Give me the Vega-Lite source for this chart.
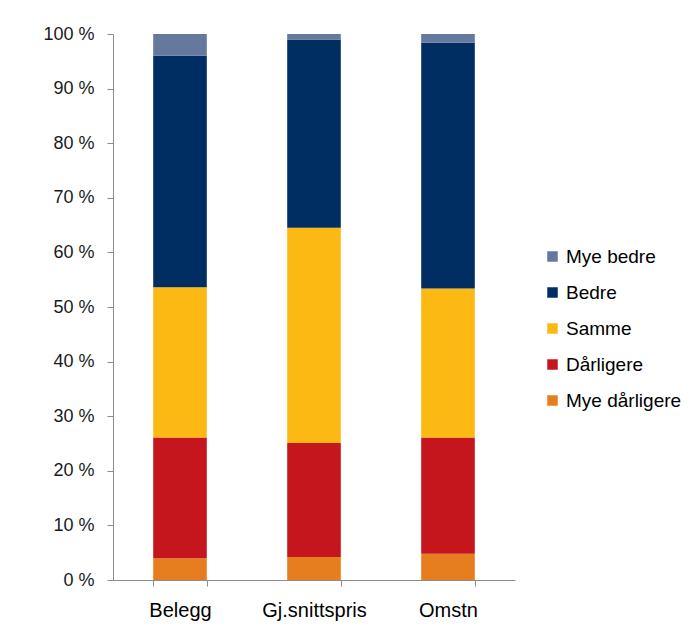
{
  "$schema": "https://vega.github.io/schema/vega-lite/v6.json",
  "autosize": "none",
  "padding": {"left": 113, "top": 34, "right": 184, "bottom": 57},
  "width": 402,
  "height": 546,
  "background": "white",
  "config": {
    "view": {"stroke": null},
    "font": "Liberation Sans"
  },
  "data": {
    "values": [
      {"kat": "Belegg", "svar": "Mye dårligere", "k": 1, "andel": 4.0},
      {"kat": "Belegg", "svar": "Dårligere", "k": 2, "andel": 22.1},
      {"kat": "Belegg", "svar": "Samme", "k": 3, "andel": 27.5},
      {"kat": "Belegg", "svar": "Bedre", "k": 4, "andel": 42.4},
      {"kat": "Belegg", "svar": "Mye bedre", "k": 5, "andel": 4.0},
      {"kat": "Gj.snittspris", "svar": "Mye dårligere", "k": 1, "andel": 4.2},
      {"kat": "Gj.snittspris", "svar": "Dårligere", "k": 2, "andel": 20.9},
      {"kat": "Gj.snittspris", "svar": "Samme", "k": 3, "andel": 39.4},
      {"kat": "Gj.snittspris", "svar": "Bedre", "k": 4, "andel": 34.5},
      {"kat": "Gj.snittspris", "svar": "Mye bedre", "k": 5, "andel": 1.0},
      {"kat": "Omstn", "svar": "Mye dårligere", "k": 1, "andel": 4.8},
      {"kat": "Omstn", "svar": "Dårligere", "k": 2, "andel": 21.3},
      {"kat": "Omstn", "svar": "Samme", "k": 3, "andel": 27.3},
      {"kat": "Omstn", "svar": "Bedre", "k": 4, "andel": 45.0},
      {"kat": "Omstn", "svar": "Mye bedre", "k": 5, "andel": 1.6}
    ]
  },
  "mark": {"type": "bar"},
  "encoding": {
    "x": {
      "field": "kat",
      "type": "nominal",
      "sort": ["Belegg", "Gj.snittspris", "Omstn"],
      "scale": {"paddingInner": 0.6, "paddingOuter": 0.3},
      "axis": {
        "title": null,
        "labelAngle": 0,
        "labelFontSize": 20,
        "labelColor": "#000000",
        "labelPadding": 14,
        "domainColor": "#8c8c8c",
        "tickColor": "#8c8c8c",
        "tickSize": 6,
        "tickBand": "extent",
        "grid": false
      }
    },
    "y": {
      "field": "andel",
      "type": "quantitative",
      "aggregate": "sum",
      "stack": "normalize",
      "scale": {"domain": [0, 1]},
      "axis": {
        "title": null,
        "values": [0, 0.1, 0.2, 0.3, 0.4, 0.5, 0.6, 0.7, 0.8, 0.9, 1],
        "labelExpr": "round(datum.value * 100) + ' %'",
        "labelFontSize": 18,
        "labelColor": "#1a1a1a",
        "labelPadding": 13,
        "domainColor": "#8c8c8c",
        "tickColor": "#8c8c8c",
        "tickSize": 6,
        "grid": false
      }
    },
    "color": {
      "field": "svar",
      "type": "nominal",
      "scale": {
        "domain": ["Mye bedre", "Bedre", "Samme", "Dårligere", "Mye dårligere"],
        "range": ["#65799F", "#002D62", "#FDB913", "#C4161C", "#E67E1F"]
      },
      "legend": {
        "title": null,
        "orient": "none",
        "legendX": 430,
        "legendY": 213,
        "symbolType": "square",
        "symbolSize": 110,
        "symbolStrokeWidth": 0,
        "labelFontSize": 19,
        "labelColor": "#000000",
        "labelOffset": 4,
        "rowPadding": 16
      }
    },
    "order": {"field": "k", "type": "quantitative"}
  }
}
